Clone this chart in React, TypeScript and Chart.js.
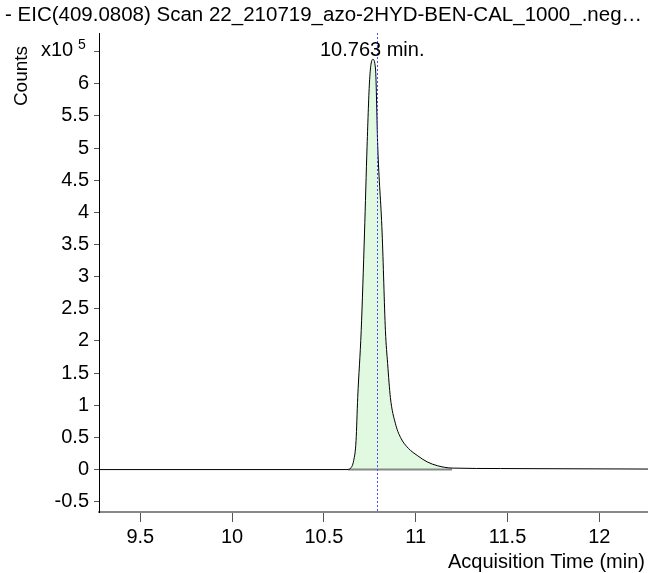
import React, { useEffect, useRef } from "react";
import { Chart, registerables } from "chart.js";

Chart.register(...registerables);

// ---- data (intensity in units of 10^5 counts) ----
const baselineTimes = [9.275, 10.632];
const baselineValues = [0, 0];

const peakTimes = [
  10.632, 10.644, 10.662, 10.675, 10.684, 10.703, 10.721, 10.735, 10.749, 10.766,
  10.781, 10.793, 10.817, 10.835, 10.847, 10.862, 10.889, 10.917, 10.96, 11.008,
  11.062, 11.118, 11.198,
];
const peakValues = [
  0, 0.016, 0.14, 0.45, 1.12, 2.16, 3.68, 5.03, 6.07, 6.38,
  6.23, 5.03, 3.68, 2.16, 1.65, 1.12, 0.72, 0.5, 0.33, 0.22,
  0.12, 0.06, 0.023,
];

const tailTimes = [11.461, 12.267];
const tailValues = [0.016, 0.008];

const xTicks = [9.5, 10, 10.5, 11, 11.5, 12];
const yTicks = [-0.5, 0, 0.5, 1, 1.5, 2, 2.5, 3, 3.5, 4, 4.5, 5, 5.5, 6, 6.5];

const titleText = "- EIC(409.0808) Scan 22_210719_azo-2HYD-BEN-CAL_1000_.neg\u2026";
const yAxisTitle = "Counts";
const xAxisTitle = "Acquisition Time (min)";
const peakLabel = "10.763 min.";
const peakLabelTime = 10.763;
const markerTime = 10.787;
const exponentBase = "x10";
const exponent = "5";

const FONT = '"Liberation Sans", Arial, sans-serif';

export default function App() {
  const canvasRef = useRef<HTMLCanvasElement | null>(null);

  useEffect(() => {
    const canvas = canvasRef.current;
    if (!canvas) return;

    const pts = (xs: number[], ys: number[]) => xs.map((x, i) => ({ x, y: ys[i] }));
    const trace = [
      ...pts(baselineTimes, baselineValues),
      ...pts(peakTimes, peakValues).slice(1),
      ...pts(tailTimes, tailValues),
    ];
    const peakRegion = pts(peakTimes, peakValues);
    const integrationBase = [
      { x: peakTimes[0], y: 0 },
      { x: peakTimes[peakTimes.length - 1], y: 0 },
    ];

    const textPlugin = {
      id: "texts",
      afterDraw(chart: any) {
        const { ctx, chartArea, scales } = chart;
        ctx.save();
        // marker dashed line
        const mx = Math.round(scales.x.getPixelForValue(markerTime)) + 0.5;
        ctx.strokeStyle = "#4a4aff";
        ctx.lineWidth = 1;
        ctx.setLineDash([2, 2]);
        ctx.beginPath();
        ctx.moveTo(mx, chartArea.top);
        ctx.lineTo(mx, chartArea.bottom);
        ctx.stroke();
        ctx.setLineDash([]);

        ctx.fillStyle = "#000";
        ctx.textBaseline = "alphabetic";
        // title
        ctx.font = `20.5px ${FONT}`;
        ctx.textAlign = "left";
        ctx.fillText(titleText, 5, 21);
        // peak label
        ctx.font = `20px ${FONT}`;
        ctx.textAlign = "center";
        ctx.fillText(peakLabel, scales.x.getPixelForValue(peakLabelTime), 56);
        // exponent
        ctx.textAlign = "left";
        ctx.fillText(exponentBase, 41, 56);
        ctx.font = `14px ${FONT}`;
        ctx.fillText(exponent, 78, 49);
        // x axis title
        ctx.font = `20px ${FONT}`;
        ctx.textAlign = "right";
        ctx.fillText(xAxisTitle, 645, 568);
        // y axis title
        ctx.save();
        ctx.translate(27, 76);
        ctx.rotate(-Math.PI / 2);
        ctx.textAlign = "center";
        ctx.font = `19px ${FONT}`;
        ctx.fillText(yAxisTitle, 0, 0);
        ctx.restore();
        ctx.restore();
      },
    };

    const chart = new Chart(canvas, {
      type: "line",
      data: {
        datasets: [
          {
            data: peakRegion,
            borderWidth: 0,
            borderColor: "rgba(0,0,0,0)",
            backgroundColor: "rgb(224,249,224)",
            fill: "origin",
            pointRadius: 0,
            cubicInterpolationMode: "monotone",
            order: 3,
          },
          {
            data: integrationBase,
            borderWidth: 2,
            borderColor: "#888",
            fill: false,
            pointRadius: 0,
            order: 2,
          },
          {
            data: trace,
            borderWidth: 1,
            borderColor: "#000",
            fill: false,
            pointRadius: 0,
            cubicInterpolationMode: "monotone",
            order: 1,
          },
        ],
      },
      options: {
        responsive: false,
        animation: false,
        events: [],
        layout: { padding: { left: 0, right: 0, top: 33, bottom: 0 } },
        plugins: {
          legend: { display: false },
          tooltip: { enabled: false },
          title: { display: false },
        },
        scales: {
          x: {
            type: "linear",
            min: 9.275,
            max: 12.265,
            grid: {
              display: true,
              drawOnChartArea: false,
              drawTicks: true,
              tickLength: 10,
              tickColor: "#555",
              tickWidth: 1,
            },
            border: { display: true, color: "#888", width: 2 },
            ticks: {
              color: "#000",
              font: { family: FONT, size: 20 },
              padding: 3,
              maxRotation: 0,
              autoSkip: false,
              callback: (v: any) => String(v),
            },
            afterBuildTicks: (s: any) => {
              s.ticks = xTicks.map((v) => ({ value: v }));
            },
            afterFit: (s: any) => {
              s.height = 61;
            },
          },
          y: {
            type: "linear",
            min: -0.66,
            max: 6.79,
            grid: {
              display: true,
              drawOnChartArea: false,
              drawTicks: true,
              tickLength: 5,
              tickColor: "#555",
              tickWidth: 1,
            },
            border: { display: true, color: "#000", width: 1 },
            ticks: {
              color: "#000",
              font: { family: FONT, size: 20 },
              padding: 5,
              autoSkip: false,
              callback: (v: any) => (v === 6.5 ? "" : String(v)),
            },
            afterBuildTicks: (s: any) => {
              s.ticks = yTicks.map((v) => ({ value: v }));
            },
            afterFit: (s: any) => {
              s.width = 99;
            },
          },
        },
      },
      plugins: [textPlugin],
    } as any);

    return () => chart.destroy();
  }, []);

  return (
    <div style={{ position: "absolute", left: 0, top: 0, width: 648, height: 573, background: "#fff" }}>
      <canvas ref={canvasRef} width={648} height={573} style={{ display: "block" }} />
    </div>
  );
}
